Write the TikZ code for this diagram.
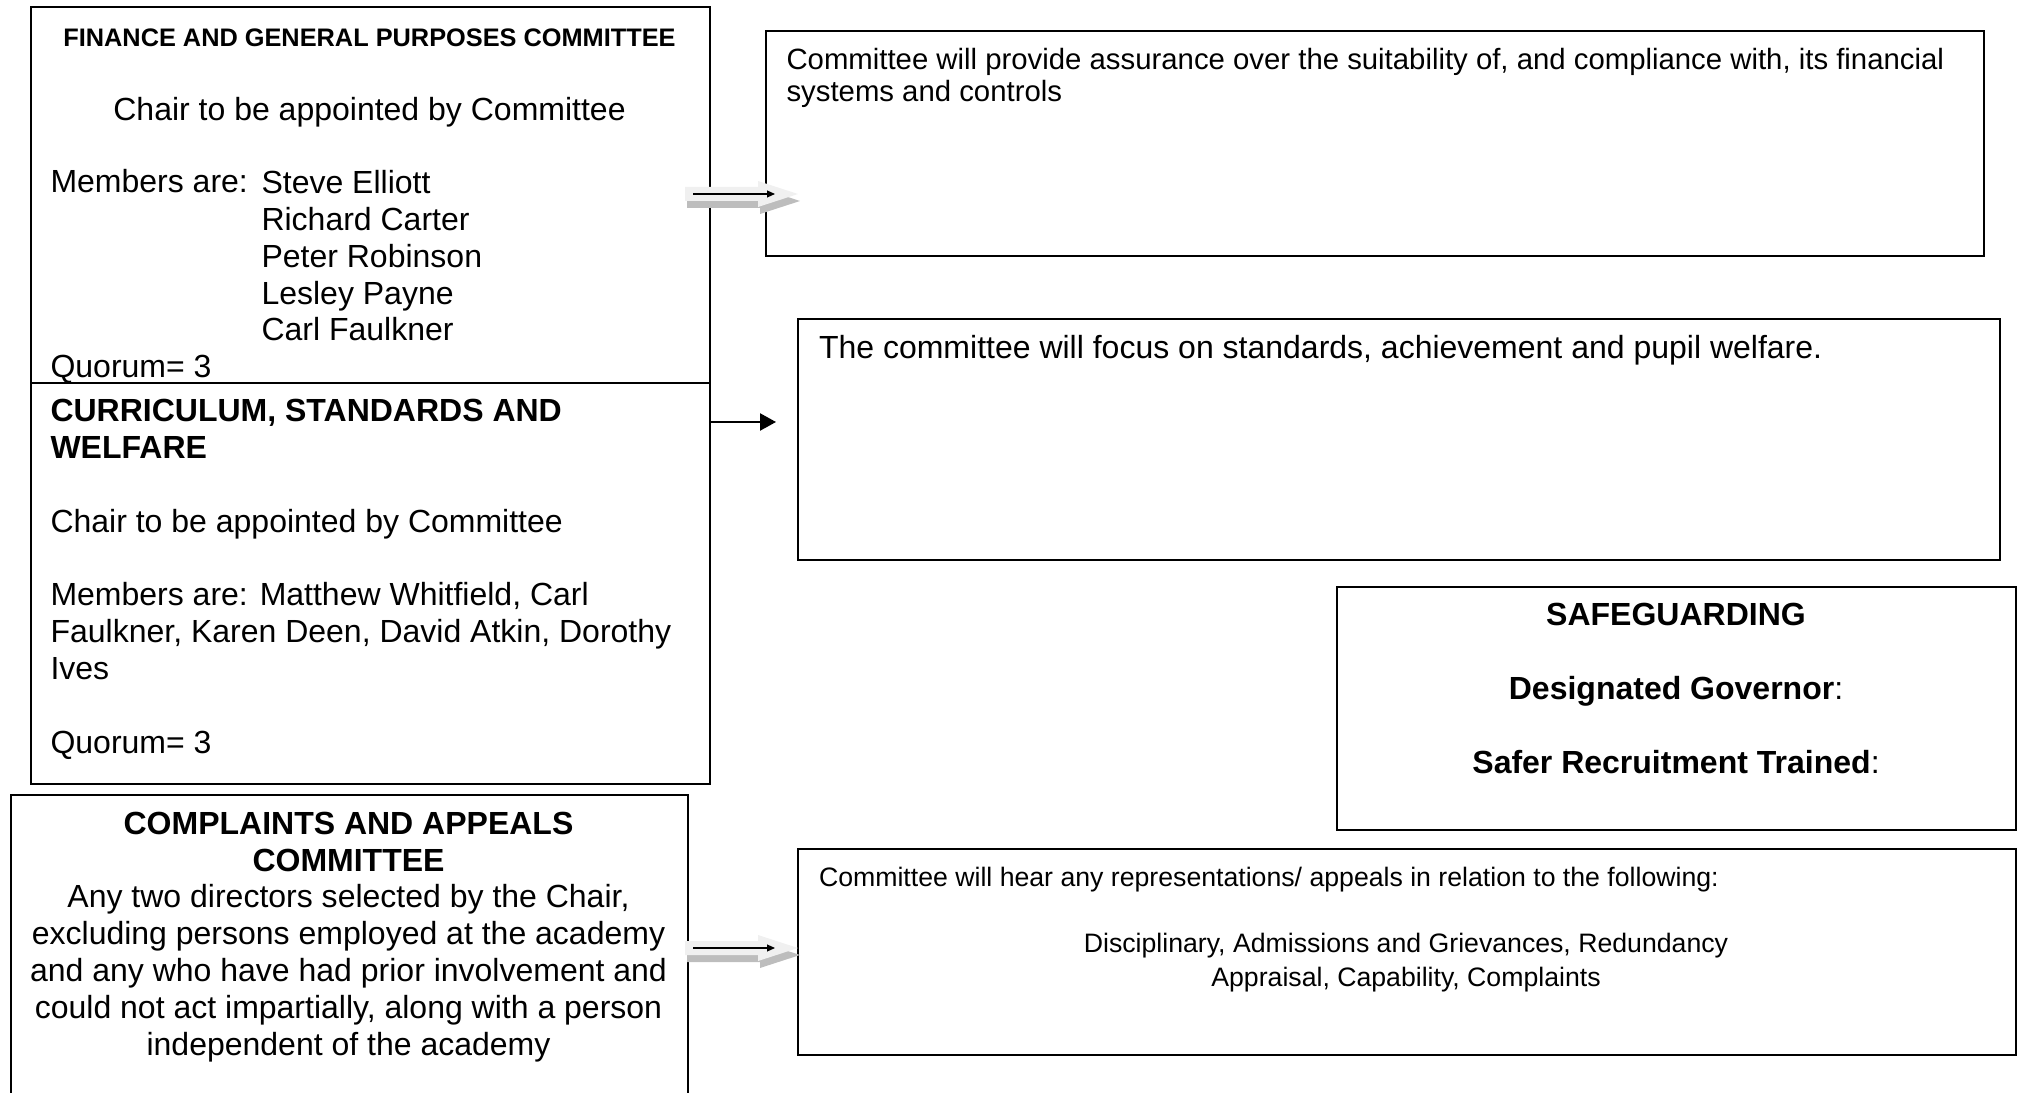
\documentclass[tikz,border=0pt]{standalone}
\usepackage{fontspec}
\setmainfont{Liberation Sans}
\usepackage{tikz}
\usetikzlibrary{arrows.meta,positioning,calc}
\definecolor{cLine}{HTML}{000000}
\definecolor{cBlock}{HTML}{F0F0F0}
\definecolor{cShadow}{HTML}{BDBDBD}
\newcommand{\pxu}{0.375pt}
\newcommand{\bodyfont}{\fontsize{12}{13.8}\selectfont}
\newcommand{\tightfont}{\fontsize{11}{12.1}\selectfont}
\newcommand{\smallbody}{\fontsize{10}{12.4}\selectfont}
\tikzset{
  panel/.style ={draw=cLine, line width=0.8pt, anchor=north west, inner sep=0pt},
  txt/.style   ={inner sep=0pt, font=\bodyfont, text=cLine},
  arrow/.style ={-{Triangle[length=6pt,width=6.4pt]}, line width=0.8pt, draw=cLine},
  tinyarrow/.style={-{Triangle[length=3pt,width=2.6pt]}, line width=0.45pt, draw=cLine},
}
% shaded block arrow between two coordinates
\newcommand{\blockarrow}[2]{%
  \foreach \dx/\dy/\col in {2/7/cShadow, 0/0/cBlock}{
    \fill[\col] ($(#1)+(\dx,\dy-7)$) -- ($(#2)+(\dx-40,\dy-7)$) -- ($(#2)+(\dx-40,\dy-13)$)
      -- ($(#2)+(\dx,\dy)$) -- ($(#2)+(\dx-40,\dy+13)$) -- ($(#2)+(\dx-40,\dy+7)$)
      -- ($(#1)+(\dx,\dy+7)$) -- cycle;
  }
  \draw[tinyarrow] ($(#1)+(8,0)$) -- ($(#2)+(-23,0)$);
}

\begin{document}
\begin{tikzpicture}[x=\pxu, y=-\pxu]
  \useasboundingbox (0,0) rectangle (2018,1093);
  % left column
  \node[panel, minimum width=679*\pxu, minimum height=376*\pxu] (fin) at (30,6) {};
  \node[panel, minimum width=679*\pxu, minimum height=401*\pxu] (cur) at (30,382) {};
  \node[panel, minimum width=677*\pxu, minimum height=320*\pxu] (cmp) at (10,794) {};
  % right column
  \node[panel, minimum width=1218*\pxu, minimum height=225*\pxu] (rfin) at (765,30) {};
  \node[panel, minimum width=1202*\pxu, minimum height=241*\pxu] (rcur) at (797,318) {};
  \node[panel, minimum width=679*\pxu, minimum height=243*\pxu] (sfg) at (1336,586) {};
  \node[panel, minimum width=1218*\pxu, minimum height=206*\pxu] (rcmp) at (797,848) {};

  % finance text (multi-line nodes sit on their last baseline)
  \node[txt, font=\bfseries\fontsize{9.5}{11}\selectfont, anchor=base] (finT) at (369.5,47)
    {FINANCE AND GENERAL PURPOSES COMMITTEE};
  \node[txt, anchor=base] (finC) at (369.5,121) {Chair to be appointed by Committee};
  \node[txt, anchor=base west] (finM) at (50,193) {Members are:};
  \node[txt, anchor=base west, align=left] (finN) at (261,341)
    {Steve Elliott\\Richard Carter\\Peter Robinson\\Lesley Payne\\Carl Faulkner};
  \node[txt, anchor=base west] (finQ) at (50,378) {Quorum= 3};

  % curriculum text
  \node[txt, anchor=base west, align=left] (curT) at (50,753)
    {\textbf{CURRICULUM, STANDARDS AND}\\\textbf{WELFARE}\\[13.8pt]
     Chair to be appointed by Committee\\[13.8pt]
     Members are: Matthew Whitfield, Carl\\Faulkner, Karen Deen, David Atkin, Dorothy\\Ives\\[13.8pt]
     Quorum= 3};

  % complaints text
  \node[txt, anchor=base, align=center] (cmpT) at (348.5,1055)
    {\textbf{COMPLAINTS AND APPEALS}\\\textbf{COMMITTEE}\\
     Any two directors selected by the Chair,\\excluding persons employed at the academy\\
     and any who have had prior involvement and\\could not act impartially, along with a person\\
     independent of the academy};

  % right boxes text
  \node[txt, font=\tightfont, anchor=base west, align=left] (rfinT) at (786,102)
    {Committee will provide assurance over the suitability of, and compliance with, its financial\\systems and controls};
  \node[txt, anchor=base west] (rcurT) at (818.5,359)
    {The committee will focus on standards, achievement and pupil welfare.};
  \node[txt, anchor=base, align=center] (sfgT) at (1676,773)
    {\textbf{SAFEGUARDING}\\[13.8pt]\textbf{Designated Governor}:\\[13.8pt]\textbf{Safer Recruitment Trained}:};
  \node[txt, font=\smallbody, anchor=base west] (rcmpT) at (818.5,886)
    {Committee will hear any representations/ appeals in relation to the following:};
  \node[txt, font=\smallbody, anchor=base, align=center] (rcmpL) at (1406,986)
    {Disciplinary, Admissions and Grievances, Redundancy\\Appraisal, Capability, Complaints};

  % connectors
  \path (fin.east |- 0,194) ++(-26,0) coordinate (a1s);
  \path (rfin.west |- 0,194) ++(33,0) coordinate (a1e);
  \blockarrow{a1s}{a1e}
  \coordinate (a2e) at (776,422);
  \draw[arrow] (cur.east |- a2e) -- (a2e);
  \path (cmp.east |- 0,948) ++(-4,0) coordinate (a3s);
  \path (rcmp.west |- 0,948) ++(1,0) coordinate (a3e);
  \blockarrow{a3s}{a3e}
\end{tikzpicture}
\end{document}
